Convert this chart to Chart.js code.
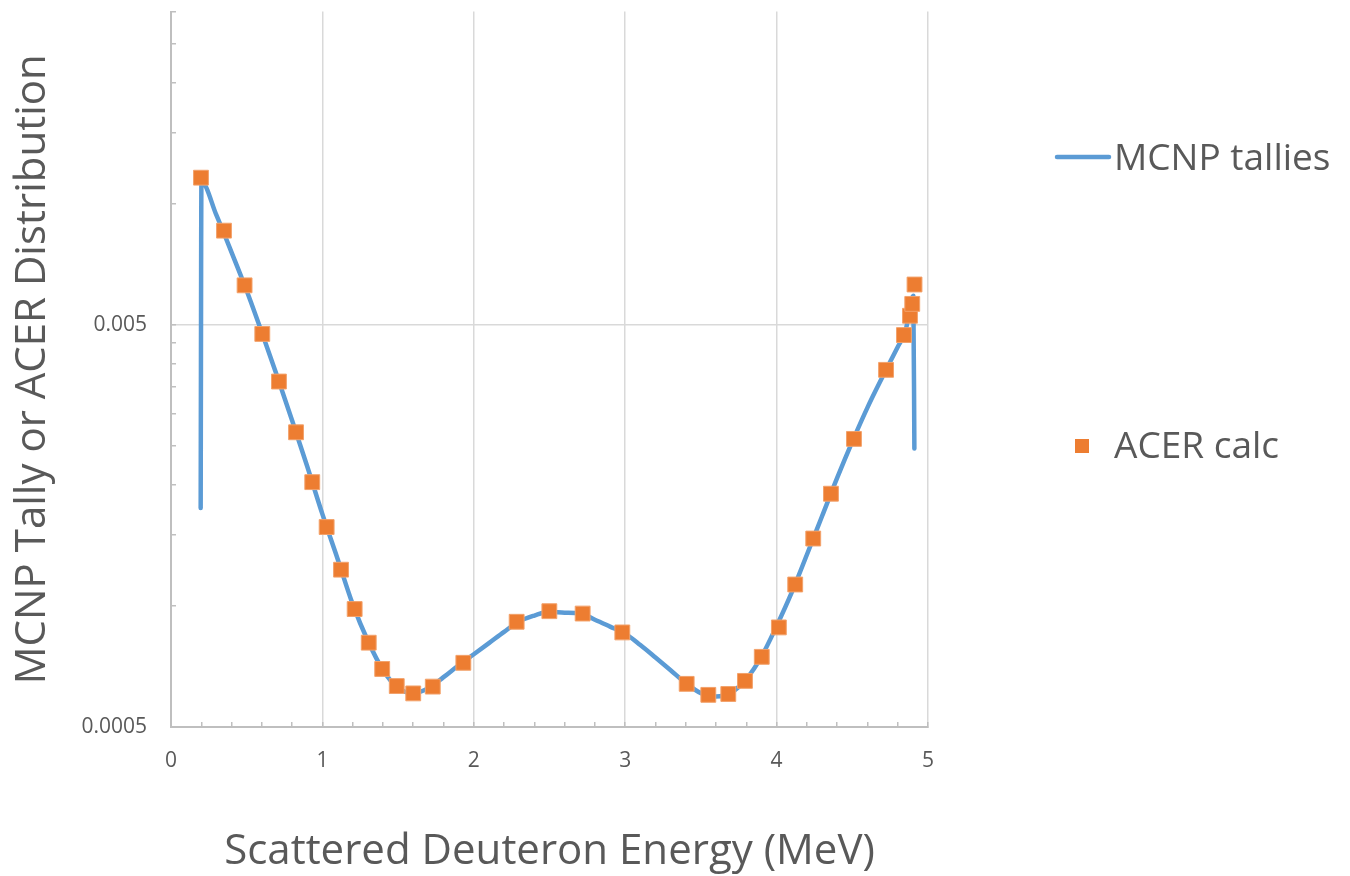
<!DOCTYPE html>
<html>
<head>
<meta charset="utf-8">
<script src="https://cdn.jsdelivr.net/npm/chart.js@4/dist/chart.umd.min.js"></script>
<style>
  html, body { margin: 0; padding: 0; background: #fff; }
  #wrap { width: 1350px; height: 876px; }
</style>
</head>
<body>
<div id="wrap"><canvas id="chart" width="1350" height="876"></canvas></div>
<script>
// MCNP tallies (line)
const mcnpEnergy = [0.196, 0.201, 0.3, 0.4, 0.5, 0.6, 0.7, 0.8, 0.9, 1.0, 1.1, 1.2, 1.3, 1.4, 1.5, 1.6, 1.7, 1.8, 1.9, 2.0,
    2.1, 2.2, 2.3, 2.4, 2.5, 2.6, 2.7, 2.8, 2.9, 3.0, 3.1, 3.2, 3.3, 3.4, 3.5, 3.6, 3.7, 3.8, 3.9, 4.0,
    4.1, 4.2, 4.3, 4.4, 4.5, 4.6, 4.7, 4.8, 4.85, 4.903, 4.91];
const mcnpValues = [0.00175, 0.01132, 0.00935, 0.00756, 0.00607, 0.00478, 0.00373, 0.00289, 0.00222, 0.00169,
    0.00131, 0.00101, 0.000819, 0.000693, 0.000625, 0.000607, 0.000624, 0.000665, 0.000712, 0.000758,
    0.000808, 0.000862, 0.000915, 0.000946, 0.000967, 0.000962, 0.000959, 0.000924, 0.000888, 0.000853,
    0.000799, 0.000744, 0.000692, 0.000643, 0.000607, 0.000595, 0.000609, 0.000658, 0.000748, 0.000891,
    0.00108, 0.00134, 0.00167, 0.00208, 0.00256, 0.00311, 0.00371, 0.0044, 0.0048, 0.0059, 0.00246];

// ACER calc (markers)
const acerEnergy = [0.198, 0.350, 0.486, 0.603, 0.713, 0.826, 0.933, 1.028, 1.123, 1.213, 1.306, 1.395, 1.491,
    1.600, 1.729, 1.931, 2.283, 2.499, 2.719, 2.981, 3.406, 3.549, 3.681, 3.791, 3.902, 4.015, 4.123,
    4.242, 4.359, 4.511, 4.723, 4.841, 4.881, 4.896, 4.911];
const acerValues = [0.01159, 0.00856, 0.00626, 0.00474, 0.00361, 0.00270, 0.00203, 0.00157, 0.00123, 0.000982,
    0.000810, 0.000697, 0.000632, 0.000606, 0.000630, 0.000722, 0.000913, 0.000970, 0.000957, 0.000859,
    0.000640, 0.000601, 0.000604, 0.000651, 0.000747, 0.000884, 0.00113, 0.00147, 0.00190, 0.00260,
    0.00386, 0.00471, 0.00526, 0.00563, 0.00629];

// axis ticks
const yTicks = [0.0005, 0.001, 0.0015, 0.002, 0.0025, 0.003, 0.0035, 0.004, 0.0045, 0.005,
    0.01, 0.015, 0.02, 0.025, 0.03];
const yMajor = [0.0005, 0.005];
const yTickLabels = ["0.0005", "0.005"];
const xLabels = ["0", "1", "2", "3", "4", "5"];

const FONT = "'Open Sans', 'DejaVu Sans', sans-serif";
const TEXT = "#595959";

const isMajorY = (v) => yMajor.some((m) => Math.abs(m - v) < 1e-9);
const isMajorX = (v) => Math.abs(v - Math.round(v)) < 1e-6;

const legendPlugin = {
    id: "sideLegend",
    afterDraw(chart) {
        const ctx = chart.ctx;
        ctx.save();
        ctx.font = "37px " + FONT;
        ctx.fillStyle = TEXT;
        ctx.textBaseline = "middle";
        ctx.textAlign = "left";
        // line sample
        ctx.strokeStyle = "#5B9BD5";
        ctx.lineWidth = 4.5;
        ctx.lineCap = "round";
        ctx.beginPath();
        ctx.moveTo(1057, 157);
        ctx.lineTo(1109, 157);
        ctx.stroke();
        ctx.fillText("MCNP tallies", 1114, 159);
        // marker sample
        ctx.fillStyle = "#ED7D31";
        ctx.fillRect(1075, 439, 14, 14);
        ctx.fillStyle = TEXT;
        ctx.fillText("ACER calc", 1114, 447);
        ctx.restore();
    },
};

new Chart(document.getElementById("chart"), {
    type: "scatter",
    data: {
        datasets: [
            {
                label: "MCNP tallies",
                data: mcnpEnergy.map((x, i) => ({ x: x, y: mcnpValues[i] })),
                showLine: true,
                borderColor: "#5B9BD5",
                borderWidth: 4.5,
                borderCapStyle: "round",
                borderJoinStyle: "round",
                pointRadius: 0,
                cubicInterpolationMode: "monotone",
                order: 2,
            },
            {
                label: "ACER calc",
                data: acerEnergy.map((x, i) => ({ x: x, y: acerValues[i] })),
                pointStyle: "rect",
                pointRadius: 10.5,
                backgroundColor: "#ED7D31",
                borderColor: "#F3A26B",
                borderWidth: 1,
                order: 1,
            },
        ],
    },
    options: {
        responsive: false,
        animation: false,
        devicePixelRatio: 1,
        layout: { padding: { top: 10, right: 422, left: 0, bottom: 0 } },
        plugins: {
            legend: { display: false },
            tooltip: { enabled: false },
        },
        scales: {
            x: {
                type: "linear",
                min: 0,
                max: 5,
                afterFit: (scale) => {
                    scale.height = 149;
                },
                ticks: {
                    stepSize: 0.2,
                    autoSkip: false,
                    maxRotation: 0,
                    padding: 26,
                    color: TEXT,
                    font: { family: FONT, size: 21 },
                    callback: (v) => (isMajorX(v) ? xLabels[Math.round(v)] : ""),
                },
                grid: {
                    color: (c) => (c.tick && isMajorX(c.tick.value) && c.tick.value > 0 ? "#d9d9d9" : "rgba(0,0,0,0)"),
                    lineWidth: 1.5,
                    tickColor: "#bfbfbf",
                    tickLength: -5,
                    drawTicks: true,
                },
                border: { color: "#bfbfbf", width: 2 },
                title: {
                    display: true,
                    text: "Scattered Deuteron Energy (MeV)",
                    color: TEXT,
                    font: { family: FONT, size: 42, lineHeight: 1 },
                    padding: { top: 0, bottom: 3 },
                },
            },
            y: {
                type: "logarithmic",
                min: 0.0005,
                max: 0.03,
                afterBuildTicks: (scale) => {
                    scale.ticks = yTicks.map((v) => ({ value: v }));
                },
                afterFit: (scale) => {
                    scale.width = 171;
                    scale.paddingTop = 0;
                    scale.paddingBottom = 0;
                },
                ticks: {
                    autoSkip: false,
                    padding: 29,
                    color: TEXT,
                    font: { family: FONT, size: 21 },
                    callback: (v) => {
                        const k = yMajor.findIndex((m) => Math.abs(m - v) < 1e-9);
                        return k >= 0 ? yTickLabels[k] : "";
                    },
                },
                grid: {
                    color: (c) => (c.tick && isMajorY(c.tick.value) && c.tick.value > 0.0006 ? "#d9d9d9" : "rgba(0,0,0,0)"),
                    lineWidth: 1.5,
                    tickColor: "#bfbfbf",
                    tickLength: -5,
                    drawTicks: true,
                },
                border: { color: "#bfbfbf", width: 2 },
                title: {
                    display: true,
                    text: "MCNP Tally or ACER Distribution",
                    color: TEXT,
                    font: { family: FONT, size: 42, lineHeight: 1 },
                    padding: { top: 12, bottom: 0 },
                },
            },
        },
    },
    plugins: [legendPlugin],
});
</script>
</body>
</html>
